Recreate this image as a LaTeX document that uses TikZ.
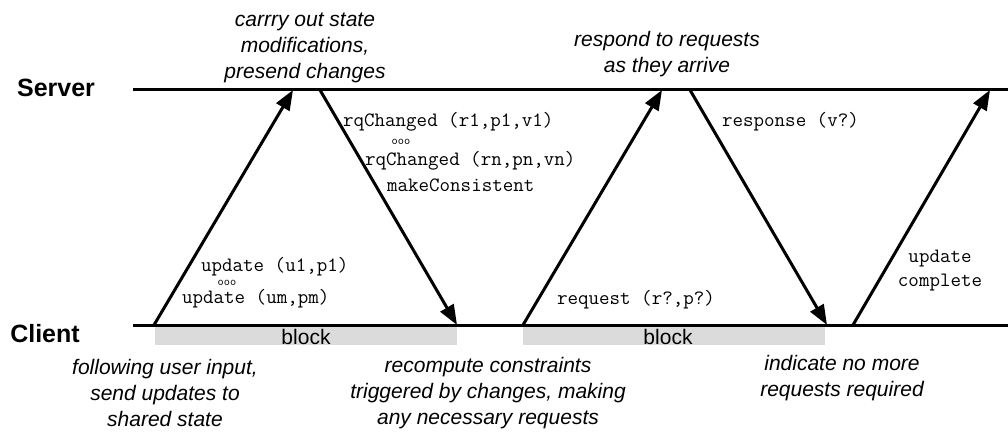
\documentclass[tikz,border=0pt]{standalone}
\usepackage{fontspec}
\setmainfont{Liberation Sans}
\usetikzlibrary{arrows.meta}
\begin{document}
\begin{tikzpicture}[x=1pt,y=-1pt,
  lifeline/.style={line width=3pt},
  msg/.style={line width=3pt,-{Triangle[length=20pt,width=15pt]}},
  blockbar/.style={fill=black!14,draw=none},
  role/.style={font=\fontsize{25}{28}\selectfont\bfseries,inner sep=0pt,anchor=base},
  note/.style={font=\fontsize{21}{26}\selectfont\itshape,align=center,inner sep=0pt},
  blocktext/.style={font=\fontsize{21}{24}\selectfont,inner sep=0pt,anchor=base},
  code/.style={font=\fontsize{20.4}{22}\selectfont\ttfamily,inner sep=0pt,anchor=base west},
  codec/.style={font=\fontsize{20.4}{22}\selectfont\ttfamily,inner sep=0pt,anchor=base},
  dots/.style={font=\fontsize{12}{12}\selectfont\ttfamily,inner sep=0pt}]
\useasboundingbox (0,0) rectangle (1008,435);
% block bars
\node[blockbar,minimum width=302pt,minimum height=20pt,inner sep=0pt,anchor=north west] (bar1) at (155,325) {};
\node[blockbar,minimum width=302pt,minimum height=20pt,inner sep=0pt,anchor=north west] (bar2) at (523,325) {};
\node[blocktext] (b1) at (306,344) {block};
\node[blocktext] (b2) at (668,344) {block};
% lifelines
\coordinate (sL) at (133,90);
\coordinate (sR) at (1008,90);
\coordinate (cL) at (133,325);
\coordinate (cR) at (1008,325);
\draw[lifeline] (sL) -- (sR);
\draw[lifeline] (cL) -- (cR);
\node[role] (server) at (56,97) {Server};
\node[role] (client) at (45,342) {Client};
% message endpoints
\coordinate (c1) at (154,325);
\coordinate (s1) at (293,90);
\coordinate (s2) at (320,90);
\coordinate (c2) at (457,325);
\coordinate (c3) at (523,325);
\coordinate (s3) at (662,90);
\coordinate (s4) at (690,90);
\coordinate (c4) at (827,325);
\coordinate (c5) at (853,325);
\coordinate (s5) at (990,90);
\draw[msg] (c1) -- (s1);
\draw[msg] (s2) -- (c2);
\draw[msg] (c3) -- (s3);
\draw[msg] (s4) -- (c4);
\draw[msg] (c5) -- (s5);
% notes
\node[note] (n1) at (305,48) {carrry out state\\modifications,\\presend changes};
\node[note] (n2) at (667,54) {respond to requests\\as they arrive};
\node[note] (n3) at (165,393) {following user input,\\send updates to\\shared state};
\node[note] (n4) at (488,393) {recompute constraints\\triggered by changes, making\\any necessary requests};
\node[note] (n5) at (842,378) {indicate no more\\requests required};
% message labels
\node[code] (u1) at (201,272) {update (u1,p1)};
\node[dots] (d1) at (227,283) {ooo};
\node[code] (um) at (182,304) {update (um,pm)};
\node[code] (r1) at (343,127) {rqChanged (r1,p1,v1)};
\node[dots] (d2) at (401,142) {ooo};
\node[code] (rn) at (365,166) {rqChanged (rn,pn,vn)};
\node[code] (mc) at (387,192) {makeConsistent};
\node[code] (resp) at (722,127) {response (v?)};
\node[code] (req) at (557,305) {request (r?,p?)};
\node[codec] (upd) at (940,263) {update};
\node[codec] (cmp) at (940,287) {complete};
\end{tikzpicture}
\end{document}
